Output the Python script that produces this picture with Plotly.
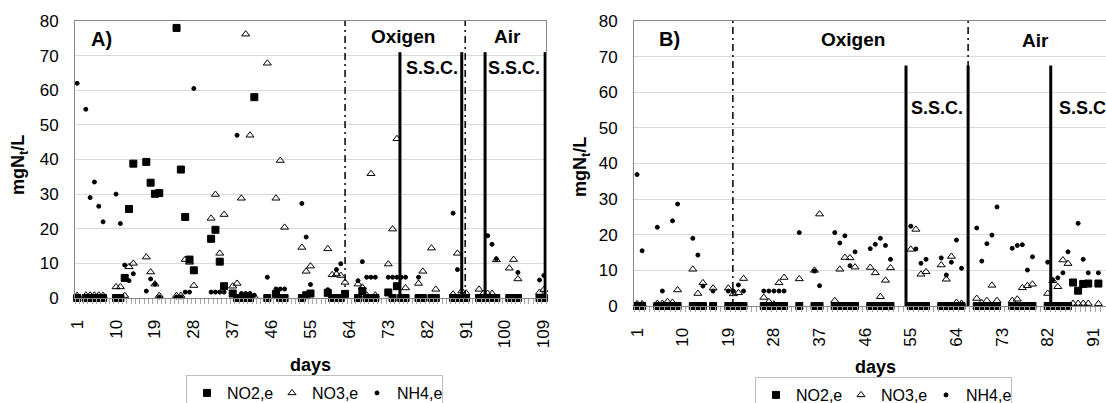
import plotly.graph_objects as go

W, H = 1106, 403
FONT = "Arial, Liberation Sans, sans-serif"

# ---------------- Panel A data (day, value) ----------------
a_no2_days = [1, 3, 4, 5, 6, 7, 10, 11, 12, 13, 14, 17, 18, 19, 20, 24, 25, 26, 27, 28,
              32, 33, 34, 35, 37, 38, 39, 40, 41, 42, 45, 47, 48, 49, 53, 54, 55,
              59, 60, 61, 62, 63, 66, 67, 68, 69, 70, 73, 74, 75, 76, 77, 80, 81, 83, 84,
              88, 89, 90, 91, 94, 95, 96, 97, 98, 101, 102, 103, 108, 109]
a_no2 = [0, 0, 0, 0, 0, 0, 0, 0, 5.8, 25.7, 38.8, 39.3, 33.3, 30.1, 30.3, 78, 37.1, 23.4, 11.1, 8.0,
         17.1, 19.7, 10.5, 3.4, 1.3, 0, 0, 0, 0, 58, 0, 1.2, 0, 0, 0, 0.8, 1.3,
         1.5, 0, 0, 0, 1.2, 0, 2.0, 0, 0, 0, 1.6, 0, 3.4, 0, 0, 0, 0, 0, 0,
         0, 0, 0, 0, 0, 0, 0, 0, 0, 0, 0, 0, 0, 0]

a_no3_days = [1, 3, 4, 5, 6, 7, 10, 11, 12, 13, 14, 17, 18, 19, 20, 24, 25, 26, 27, 28,
              32, 33, 34, 35, 37, 38, 39, 40, 41, 42, 45, 47, 48, 49, 53, 54, 55,
              59, 60, 61, 62, 63, 66, 67, 68, 69, 70, 73, 74, 75, 77, 80, 81, 83, 84,
              88, 89, 90, 91, 94, 95, 96, 97, 98, 101, 102, 103, 108, 109]
a_no3 = [0.7, 0.8, 0.8, 0.8, 0.8, 0.7, 3.2, 3.2, 0.7, 9.0, 10.0, 11.8, 7.5, 4.0, 0.7, 0.7, 0.7, 11.1, 10.3, 3.6,
         23.0, 29.9, 12.9, 24.1, 3.4, 4.2, 28.8, 76.2, 47.0, 0.4, 67.8, 28.8, 39.7, 20.4, 14.6, 7.7, 9.2,
         14.2, 6.7, 6.9, 6.5, 4.5, 4.0, 3.1, 0.8, 35.9, 0.8, 9.8, 19.9, 46.0, 2.9, 4.2, 7.7, 14.4, 2.5,
         1.1, 12.9, 2.0, 1.4, 2.5, 1.3, 1.3, 1.3, 11.0, 8.6, 11.1, 5.5, 1.6, 2.4]

a_nh4_days = [1, 3, 4, 5, 6, 7, 10, 11, 12, 13, 14, 17, 18, 19, 20, 24, 25, 26, 27, 28,
              32, 33, 34, 35, 37, 38, 39, 40, 41, 42, 45, 47, 48, 49, 53, 54, 55,
              59, 61, 62, 66, 67, 68, 69, 70, 73, 74, 75, 76, 77, 80,
              88, 89, 96, 97, 98, 103, 108, 109]
a_nh4 = [62, 54.5, 29, 33.5, 26.5, 22, 30, 21.5, 9.5, 5.0, 7.0, 2.0, 5.5, 4.0, 0.3, 0.3, 0.3, 1.7, 1.7, 60.5,
         1.7, 1.7, 1.7, 1.7, 1.3, 47, 1.3, 1.3, 1.3, 0.8, 6.0, 2.6, 2.6, 2.6, 27.3, 17.6, 3.9,
         2.4, 8.2, 9.9, 5.0, 10.5, 6, 6, 6, 6, 6, 6, 6, 6, 6,
         24.5, 8.2, 18.0, 15.5, 11.3, 7.4, 5.2, 6.5]

# ---------------- Panel B data (day, value) ----------------
b_days_zero = [1, 2, 5, 6, 7, 8, 9, 12, 13, 14, 16, 19, 20, 21, 22, 26, 27, 28, 29, 30, 33, 36, 37,
               40, 41, 42, 43, 44, 47, 48, 49, 50, 51, 55, 56, 57, 58, 61, 62, 63, 64, 65,
               68, 69, 70, 71, 72, 75, 76, 77, 78, 79, 82, 83, 84, 85, 86]
b_no2_days = b_days_zero + [87, 88, 89, 90, 92]
b_no2 = [0] * len(b_days_zero) + [6.6, 4.3, 6.2, 6.3, 6.3]

b_no3_days = [1, 2, 5, 6, 7, 8, 9, 12, 13, 14, 16, 19, 20, 21, 22, 26, 27, 28, 29, 30, 33, 36, 37,
              40, 41, 42, 43, 44, 47, 48, 49, 50, 51, 55, 56, 57, 58, 61, 62, 63, 64, 65,
              68, 69, 70, 71, 72, 75, 76, 77, 78, 79, 82, 83, 84, 85, 86, 87, 88, 89, 90, 92]
b_no3 = [0.6, 0.6, 0.7, 0.7, 1.2, 1.0, 4.5, 10.3, 3.5, 6.5, 5.0, 5.0, 3.4, 3.7, 7.7, 2.4, 1.2, 0.5, 6.5, 8.0, 7.6, 10.0, 25.8,
         1.5, 10.3, 13.6, 13.5, 10.9, 10.8, 9.3, 2.6, 7.2, 10.7, 15.9, 21.5, 8.9, 9.6, 11.5, 7.5, 13.9, 1.0, 0.7,
         2.1, 0.9, 1.5, 5.8, 1.5, 1.5, 1.9, 5.1, 5.7, 6.1, 3.5, 7.1, 5.4, 12.9, 11.9, 0.7, 0.7, 0.7, 0.7, 0.6]

b_nh4_days = [1, 2, 5, 6, 8, 9, 12, 13, 14, 16, 19, 20, 21, 22, 26, 27, 28, 29, 30, 33, 36, 37,
              40, 41, 42, 43, 44, 47, 48, 49, 50, 51, 55, 56, 57, 58, 61, 62, 63, 64, 65,
              68, 69, 70, 71, 72, 75, 76, 77, 78, 79, 82, 83, 84, 85, 86, 88, 89, 90, 92]
b_nh4 = [36.9, 15.5, 22.1, 4.2, 23.9, 28.6, 19.0, 14.3, 5.6, 4.2, 4.2, 4.2, 5.9, 4.2, 4.2, 4.2, 4.2, 4.2, 4.2, 20.6, 9.8, 5.7,
         20.6, 17.7, 19.7, 11.3, 15.2, 16.1, 17.3, 19.0, 17.0, 13.1, 22.4, 16.0, 12.0, 13.1, 13.5, 8.7, 12.3, 18.5, 10.6,
         21.9, 12.6, 17.5, 19.9, 27.8, 16.2, 17.0, 17.2, 10.1, 13.8, 12.3, 7.3, 7.9, 9.3, 15.2, 23.2, 13.1, 9.3, 9.3]

a_ticks = [1, 10, 19, 28, 37, 46, 55, 64, 73, 82, 91, 100, 109]
b_ticks = [1, 10, 19, 28, 37, 46, 55, 64, 73, 82, 91]

# phase boundaries (day positions)
a_dashdot = [63.0, 90.8]
a_solid = [75.7, 90.0, 95.4, 109.3]
b_dashdot = [19.9, 66.3]
b_solid = [54.05, 66.3, 82.6]

fig = go.Figure()

def add_series(xs, ys, name, symbol, size, xa, ya, leg):
    fig.add_trace(go.Scatter(
        x=xs, y=ys, mode="markers", name=name, xaxis=xa, yaxis=ya, legend=leg,
        cliponaxis=False,
        marker=dict(symbol=symbol, size=size, color="black",
                    line=dict(color="black", width=1))))

add_series(a_no2_days, a_no2, "NO2,e", "square", 7, "x", "y", "legend")
add_series(a_no3_days, a_no3, "NO3,e", "triangle-up-open", 7, "x", "y", "legend")
add_series(a_nh4_days, a_nh4, "NH4,e", "circle", 4, "x", "y", "legend")
add_series(b_no2_days, b_no2, "NO2,e", "square", 7, "x2", "y2", "legend2")
add_series(b_no3_days, b_no3, "NO3,e", "triangle-up-open", 7, "x2", "y2", "legend2")
add_series(b_nh4_days, b_nh4, "NH4,e", "circle", 4, "x2", "y2", "legend2")

shapes = []
for d in a_dashdot:
    shapes.append(dict(type="line", xref="x", yref="y", x0=d, x1=d, y0=0, y1=80,
                       line=dict(color="black", width=1.5, dash="7px,4px,2px,4px")))
for d in a_solid:
    shapes.append(dict(type="line", xref="x", yref="y", x0=d, x1=d, y0=0, y1=71,
                       line=dict(color="black", width=3)))
for d in b_dashdot:
    shapes.append(dict(type="line", xref="x2", yref="y2", x0=d, x1=d, y0=0, y1=80,
                       line=dict(color="black", width=1.5, dash="7px,4px,2px,4px")))
for d in b_solid:
    shapes.append(dict(type="line", xref="x2", yref="y2", x0=d, x1=d, y0=0, y1=67.5,
                       line=dict(color="black", width=3)))

def px(xp, yp):
    return xp / W, 1 - yp / H

ann = []
def txt(t, xp, yp, size=17, xanchor="center", angle=0):
    x, y = px(xp, yp)
    ann.append(dict(text=t, x=x, y=y, xref="paper", yref="paper", showarrow=False,
                    xanchor=xanchor, yanchor="middle", textangle=angle,
                    font=dict(family=FONT, size=size, color="black")))

txt("<b>A)</b>", 101, 39, 20)
txt("<b>Oxigen</b>", 403, 37, 19)
txt("<b>Air</b>", 507, 37, 19)
txt("<b>S.S.C.</b>", 432, 68, 18)
txt("<b>S.S.C.</b>", 514, 68, 18)
txt("<b>B)</b>", 669, 39, 20)
txt("<b>Oxigen</b>", 853, 39, 19)
txt("<b>Air</b>", 1035, 40, 19)
txt("<b>S.S.C.</b>", 937, 108, 18)
txt("<b>S.S.C.</b>", 1057, 108, 18, xanchor="left")
txt("<b>mgN<sub>t</sub>/L</b>", 19, 165, 18, angle=-90)
txt("<b>mgN<sub>t</sub>/L</b>", 581, 167, 18, angle=-90)
txt("<b>days</b>", 310, 365, 18)
txt("<b>days</b>", 875, 367, 18)

def xaxis(domain, rng, ticks, anchor):
    return dict(domain=domain, range=rng, anchor=anchor, tickmode="array", tickvals=ticks,
                ticktext=[str(t) for t in ticks], tickangle=-90, showgrid=False, zeroline=False,
                showline=True, linecolor="#868686", linewidth=1, mirror=True, ticks="",
                automargin=False, ticklabelstandoff=14,
                tickfont=dict(family=FONT, size=17, color="black"),
                minor=dict(ticks="outside", tick0=0.5, dtick=1, ticklen=5,
                           tickcolor="#a6a6a6", showgrid=False))

def yaxis(domain, anchor):
    return dict(domain=domain, range=[0, 80], anchor=anchor, dtick=10, showgrid=True,
                gridcolor="#d9d9d9", gridwidth=1, zeroline=False, showline=True,
                linecolor="#868686", linewidth=1, mirror=True, ticks="",
                automargin=False, ticklabelstandoff=12,
                tickfont=dict(family=FONT, size=17, color="black"))

legend_common = dict(orientation="h", xanchor="left", yanchor="top", bordercolor="#bfbfbf",
                     borderwidth=1, bgcolor="white", itemwidth=30,
                     xref="container", yref="container",
                     entrywidth=40, entrywidthmode="pixels",
                     font=dict(family=FONT, size=16, color="black"))

fig.update_layout(
    width=W, height=H, margin=dict(l=0, r=0, t=0, b=0, autoexpand=False),
    paper_bgcolor="white", plot_bgcolor="white",
    font=dict(family=FONT, color="black"),
    xaxis=xaxis([75 / W, 546 / W], [0.5, 109.5], a_ticks, "y"),
    yaxis=yaxis([1 - 298 / H, 1 - 21 / H], "x"),
    xaxis2=xaxis([634 / W, 1.0], [0.4, 93.5], b_ticks, "y2"),
    yaxis2=yaxis([1 - 306 / H, 1 - 21 / H], "x2"),
    shapes=shapes, annotations=ann,
    legend=dict(x=186 / W, y=1 - 375 / H, **legend_common),
    legend2=dict(x=755 / W, y=1 - 377 / H, **legend_common),
)

fig.write_html("out.html", config={"displayModeBar": False},
               post_script="document.body.style.margin='0px';document.body.style.overflow='hidden';")
